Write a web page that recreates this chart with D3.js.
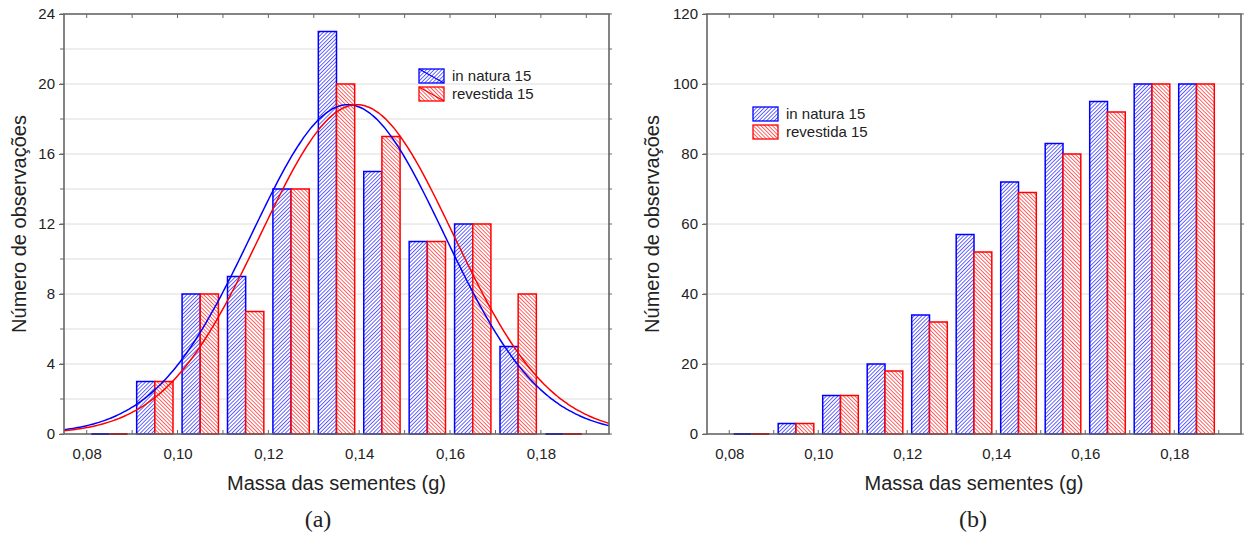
<!DOCTYPE html>
<html>
<head>
<meta charset="utf-8">
<script src="https://cdn.jsdelivr.net/npm/d3@7"></script>
<style>
  html, body { margin: 0; padding: 0; background: #fff; }
  svg { display: block; }
  text { font-family: "Liberation Sans", Arial, sans-serif; fill: #222; }
  .cap { font-family: "Liberation Serif", "Times New Roman", serif; }
</style>
</head>
<body>
<svg id="chart" width="1244" height="536"></svg>
<script>
// Bin centres of seed mass (g)
const binCenters = [0.085, 0.095, 0.105, 0.115, 0.125, 0.135, 0.145, 0.155, 0.165, 0.175, 0.185];
const binWidth = 0.01;

// (a) frequency per bin
const freqNatura    = [0, 3, 8, 9, 14, 23, 15, 11, 12, 5, 0];
const freqRevestida = [0, 3, 8, 7, 14, 20, 17, 11, 12, 8, 0];

// (b) cumulative counts per bin
const cumNatura    = [0, 3, 11, 20, 34, 57, 72, 83, 95, 100, 100];
const cumRevestida = [0, 3, 11, 18, 32, 52, 69, 80, 92, 100, 100];

// Fitted normal curves (mean, standard deviation, sample size)
const fitMean = [0.1375, 0.1395];
const fitSd   = [0.0212, 0.0212];
const fitN    = [100, 100];

const seriesNames  = ["in natura 15", "revestida 15"];
const seriesColors = ["#0000ff", "#ff0000"];

const xTickValues = [0.08, 0.10, 0.12, 0.14, 0.16, 0.18];
const yTicksA = [0, 4, 8, 12, 16, 20, 24];
const yTicksB = [0, 20, 40, 60, 80, 100, 120];

const xTitle = "Massa das sementes (g)";
const yTitle = "Número de observações";
const panelCaptions = ["(a)", "(b)"];

const svg = d3.select("#chart");
const fmt = d => d3.format(".2f")(d).replace(".", ",");

// Hatch patterns
const defs = svg.append("defs");
function hatch(id, color, angle) {
  const s = 2.7;
  const p = defs.append("pattern")
    .attr("id", id)
    .attr("patternUnits", "userSpaceOnUse")
    .attr("width", s).attr("height", s)
    .attr("patternTransform", `rotate(${angle})`);
  p.append("rect").attr("width", s).attr("height", s).attr("fill", "#fff");
  p.append("line").attr("x1", 0).attr("y1", 0).attr("x2", 0).attr("y2", s)
    .attr("stroke", color).attr("stroke-width", 1.2);
}
hatch("hatchBlue", seriesColors[0], 45);
hatch("hatchRed", seriesColors[1], -45);
const fills = ["url(#hatchBlue)", "url(#hatchRed)"];

function panel(cfg) {
  const { left, right, top, bottom, yMax, yTicks, yMinorStep, values, curves,
          legendPos, caption, captionX, yTitleOffset } = cfg;
  const g = svg.append("g");
  const x = d3.scaleLinear().domain([0.075, 0.195]).range([left, right]);
  const y = d3.scaleLinear().domain([0, yMax]).range([bottom, top]);

  // grid lines
  const gridVals = d3.range(yMinorStep, yMax, yMinorStep);
  g.append("g").selectAll("line").data(gridVals).join("line")
    .attr("x1", left).attr("x2", right)
    .attr("y1", d => y(d)).attr("y2", d => y(d))
    .attr("stroke", "#dcdcdc").attr("stroke-width", 1);

  // bars (non-zero first, empty bins drawn over the frame later)
  const band = d3.scaleBand().domain([0, 1]).range([0, x(binWidth * 0.8) - x(0)]);
  const barData = si => values[si].map((v, i) => ({ v, c: binCenters[i] }));
  values.forEach((vals, si) => {
    g.append("g").selectAll("rect").data(barData(si).filter(d => d.v > 0)).join("rect")
      .attr("x", d => x(d.c - binWidth * 0.4) + band(si))
      .attr("width", band.bandwidth())
      .attr("y", d => y(d.v))
      .attr("height", d => y(0) - y(d.v))
      .attr("fill", fills[si])
      .attr("stroke", seriesColors[si])
      .attr("stroke-width", 1.5);
  });

  // fitted curves
  if (curves) {
    const xs = d3.range(0, 241).map(i => 0.075 + i * 0.0005);
    curves.forEach((cv, si) => {
      const line = d3.line()
        .x(d => x(d))
        .y(d => y(cv.n * binWidth / (cv.sd * Math.sqrt(2 * Math.PI)) *
                   Math.exp(-0.5 * ((d - cv.mean) / cv.sd) ** 2)))
        .curve(d3.curveBasis);
      g.append("path").datum(xs).attr("d", line)
        .attr("fill", "none").attr("stroke", seriesColors[si]).attr("stroke-width", 1.5);
    });
  }

  // axes
  const axisColor = "#666";
  const xBottom = g.append("g").attr("transform", `translate(0,${bottom})`)
    .call(d3.axisBottom(x).tickValues(xTickValues).tickFormat(fmt).tickSize(0).tickPadding(14));
  xBottom.select(".domain").remove();
  xBottom.selectAll("text").attr("font-size", 15).attr("fill", "#222");

  const yLeft = g.append("g").attr("transform", `translate(${left},0)`)
    .call(d3.axisLeft(y).tickValues(yTicks).tickFormat(d3.format("d")).tickSize(5).tickPadding(4));
  yLeft.select(".domain").remove();
  yLeft.selectAll("line").attr("stroke", axisColor);
  yLeft.selectAll("text").attr("font-size", 15).attr("fill", "#222");

  // minor ticks
  const minorY = d3.range(0, yMax + 1e-9, yMinorStep);
  g.append("g").selectAll("line").data(minorY).join("line")
    .attr("x1", left - 4).attr("x2", left).attr("y1", d => y(d)).attr("y2", d => y(d))
    .attr("stroke", axisColor);
  g.append("g").selectAll("line").data(minorY).join("line")
    .attr("x1", right).attr("x2", right + 3).attr("y1", d => y(d)).attr("y2", d => y(d))
    .attr("stroke", axisColor);
  const xTicksAll = d3.range(0.08, 0.1951, 0.01);
  g.append("g").selectAll("line").data(xTicksAll).join("line")
    .attr("x1", d => x(d)).attr("x2", d => x(d)).attr("y1", bottom).attr("y2", bottom - 4)
    .attr("stroke", axisColor);
  g.append("g").selectAll("line").data(xTicksAll).join("line")
    .attr("x1", d => x(d)).attr("x2", d => x(d)).attr("y1", top).attr("y2", top + 4)
    .attr("stroke", axisColor);

  // frame
  g.append("rect").attr("x", left).attr("y", top)
    .attr("width", right - left).attr("height", bottom - top)
    .attr("fill", "none").attr("stroke", axisColor).attr("stroke-width", 1.6);

  // empty bins: flat outlines on the baseline
  values.forEach((vals, si) => {
    g.append("g").selectAll("line").data(barData(si).filter(d => d.v === 0)).join("line")
      .attr("x1", d => x(d.c - binWidth * 0.4) + band(si))
      .attr("x2", d => x(d.c - binWidth * 0.4) + band(si) + band.bandwidth())
      .attr("y1", y(0)).attr("y2", y(0))
      .attr("stroke", si === 0 ? "#2a2a90" : "#902a2a")
      .attr("stroke-width", 1.8);
  });

  // titles
  g.append("text").attr("x", (left + right) / 2).attr("y", bottom + 56)
    .attr("text-anchor", "middle").attr("font-size", 20).text(xTitle);
  g.append("text")
    .attr("transform", `translate(${left - yTitleOffset},${(top + bottom) / 2}) rotate(-90)`)
    .attr("text-anchor", "middle").attr("font-size", 20).text(yTitle);
  g.append("text").attr("class", "cap").attr("x", captionX).attr("y", 527)
    .attr("text-anchor", "middle").attr("font-size", 24).text(caption);

  // legend
  const lg = g.append("g").attr("transform", `translate(${legendPos[0]},${legendPos[1]})`);
  seriesNames.forEach((name, si) => {
    const yy = si * 18;
    lg.append("rect").attr("x", 0).attr("y", yy).attr("width", 25).attr("height", 14)
      .attr("fill", fills[si]).attr("stroke", seriesColors[si]).attr("stroke-width", 1.3);
    if (curves) {
      lg.append("line").attr("x1", 0).attr("y1", yy).attr("x2", 25).attr("y2", yy + 14)
        .attr("stroke", seriesColors[si]).attr("stroke-width", 1.2);
    }
    lg.append("text").attr("x", 33).attr("y", yy + 12).attr("font-size", 15).text(name);
  });
}

panel({
  left: 64, right: 609, top: 14, bottom: 434,
  yMax: 24, yTicks: yTicksA, yMinorStep: 2,
  values: [freqNatura, freqRevestida],
  curves: fitMean.map((m, i) => ({ mean: m, sd: fitSd[i], n: fitN[i] })),
  legendPos: [419, 69], caption: panelCaptions[0], captionX: 318, yTitleOffset: 38
});

panel({
  left: 707, right: 1241, top: 14, bottom: 434,
  yMax: 120, yTicks: yTicksB, yMinorStep: 20,
  values: [cumNatura, cumRevestida],
  curves: null,
  legendPos: [753, 107], caption: panelCaptions[1], captionX: 973, yTitleOffset: 48
});
</script>
</body>
</html>
